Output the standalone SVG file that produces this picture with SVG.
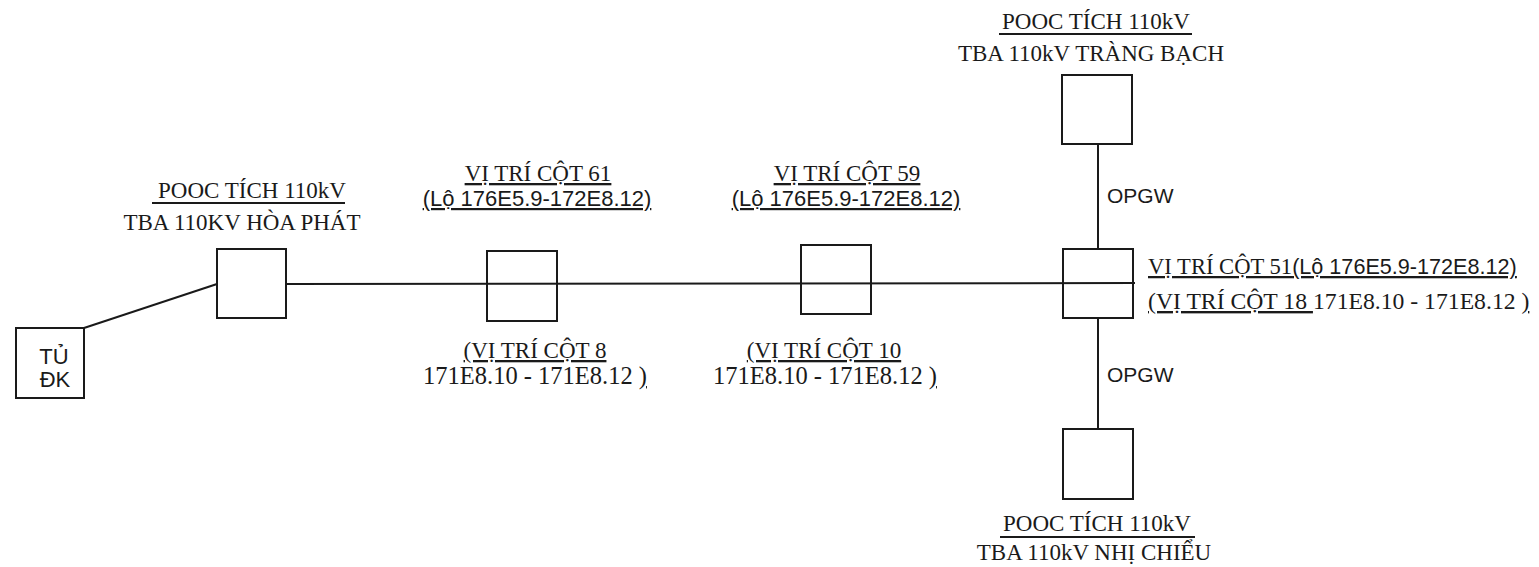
<svg xmlns="http://www.w3.org/2000/svg" width="1539" height="567" viewBox="0 0 1539 567">
<style>
.bg{fill:#fff}
.box{fill:#fff;stroke:#1a1a1a;stroke-width:2}
.ln{stroke:#1a1a1a;stroke-width:2;fill:none}
.bar{stroke:#1a1a1a;stroke-width:2}
.s{font-family:"Liberation Serif","Times New Roman",serif;font-size:23px;fill:#1a1a1a}
.n{font-size:24.5px}
.a{font-family:"Liberation Sans",Arial,sans-serif;font-size:22px;fill:#1a1a1a}
.o{font-family:"Liberation Sans",Arial,sans-serif;font-size:21px;fill:#1a1a1a}
.u{text-decoration:underline}
.m{text-anchor:middle}
</style>
<rect class="bg" x="0" y="0" width="1539" height="567"/>
<g id="connectors">
<line class="ln" x1="84" y1="328" x2="217" y2="284"/>
<line class="ln" x1="286" y1="284" x2="1135" y2="283"/>
<line class="ln" x1="1098" y1="144" x2="1098" y2="249"/>
<line class="ln" x1="1098" y1="318" x2="1098" y2="429"/>
<text class="o" x="1107" y="203">OPGW</text>
<text class="o" x="1107" y="382">OPGW</text>
</g>
<g id="tu-dk">
<rect class="box" x="16" y="328" width="68" height="70"/>
<text class="a m" x="54" y="364">TỦ</text>
<text class="a m" x="55" y="387">ĐK</text>
</g>
<g id="hoa-phat">
<rect class="box" x="217" y="249" width="69" height="69"/>
<text class="s m" x="252" y="198">POOC TÍCH 110kV</text>
<line class="bar" x1="152" y1="203" x2="345" y2="203"/>
<text class="s m" x="242" y="230">TBA 110KV HÒA PHÁT</text>
</g>
<g id="cot-61">
<rect class="box" x="487" y="251" width="70" height="70" style="fill:none"/>
<text class="s m u" x="538" y="181">VỊ TRÍ CỘT 61</text>
<text class="a m u" x="537" y="206">(Lộ 176E5.9-172E8.12)</text>
<text class="s m u" x="535" y="358">(VỊ TRÍ CỘT 8</text>
<text class="s n m" x="535" y="384">171E8.10 - 171E8.12 <tspan class="u">)</tspan></text>
</g>
<g id="cot-59">
<rect class="box" x="801" y="245" width="70" height="69" style="fill:none"/>
<text class="s m u" x="847" y="181">VỊ TRÍ CỘT 59</text>
<text class="a m u" x="846" y="206">(Lộ 176E5.9-172E8.12)</text>
<text class="s m u" x="824" y="358">(VỊ TRÍ CỘT 10</text>
<text class="s n m" x="825" y="384">171E8.10 - 171E8.12 <tspan class="u">)</tspan></text>
</g>
<g id="trang-bach">
<rect class="box" x="1062" y="75" width="70" height="69"/>
<text class="s m" x="1096" y="29">POOC TÍCH 110kV</text>
<line class="bar" x1="999" y1="34" x2="1192" y2="34"/>
<text class="s m" x="1091" y="61">TBA 110kV TRÀNG BẠCH</text>
</g>
<g id="cot-51">
<rect class="box" x="1063" y="249" width="70" height="69" style="fill:none"/>
<text class="s u" x="1148" y="274" style="font-size:22.6px">VỊ TRÍ CỘT 51<tspan class="a u" style="font-size:21.6px">(Lộ 176E5.9-172E8.12)</tspan></text>
<text class="s" x="1148" y="309" style="font-size:23.7px"><tspan class="u">(VỊ TRÍ CỘT 18 </tspan>171E8.10 - 171E8.12 <tspan class="u">)</tspan></text>
</g>
<g id="nhi-chieu">
<rect class="box" x="1063" y="429" width="70" height="70"/>
<text class="s m" x="1097" y="531">POOC TÍCH 110kV</text>
<line class="bar" x1="1000" y1="537" x2="1195" y2="537"/>
<text class="s m" x="1094" y="560">TBA 110kV NHỊ CHIỂU</text>
</g>
</svg>
